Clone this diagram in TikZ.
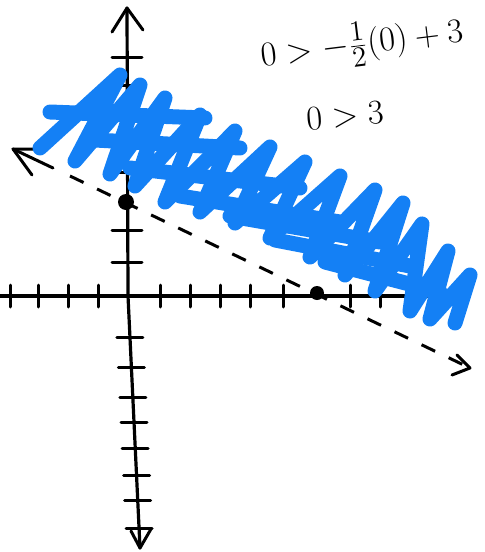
\documentclass[tikz,border=0pt]{standalone}
\usetikzlibrary{arrows.meta}
\definecolor{scrib}{RGB}{20,128,245}
\begin{document}
\begin{tikzpicture}[x=0.5pt,y=-0.5pt,
  axis/.style={line width=1.6pt, line cap=round, line join=round, black},
  tick/.style={line width=1.5pt, line cap=round, black},
  dashline/.style={line width=1.5pt, dash pattern=on 7.5pt off 7.5pt, black},
  tipline/.style={line width=1.5pt, line cap=round, line join=round, black},
  scribble/.style={draw=scrib, line width=7.5pt, line cap=round, line join=round},
  lbl/.style={font=\fontsize{19}{22}\selectfont, inner sep=0pt},
  dot/.style={circle, fill=black, inner sep=0pt}
]
\useasboundingbox (0,0) rectangle (484,552);
% axes
\coordinate (ytop) at (127,8);
\coordinate (ymid) at (128,296);
\coordinate (ybot) at (140,548);
\coordinate (xl) at (0,296);
\coordinate (xr) at (445,296);
\draw[axis] (ytop) -- (ymid) -- (ybot);
\draw[axis] (xl) -- (xr);
\draw[tipline] (112,32) -- (ytop) -- (143,30);
\draw[tipline] (131,531) -- (ybot) -- (151,529);
% y ticks above
\foreach \y in {57,85,114,143,172,230,262}
  \draw[tick] (112,\y) -- (142,\y);
% y ticks below
\foreach \y in {337,367,397,422,448,475,500,528}
  \draw[tick] ({128+(\y-296)*12/252-13},\y) -- ({128+(\y-296)*12/252+13},\y);
% x ticks
\foreach \x in {10,38,68,98,160,190,220,250,283,350,380,410,440}
  \draw[tick] (\x,285) -- (\x,307);
% boundary line
\coordinate (ltip) at (13,149);
\coordinate (rtip) at (470,368);
\coordinate (lsolid) at (53,168);
\draw[tipline] (ltip) -- (lsolid);
\draw[dashline] (lsolid) ++(17,8) -- (rtip);
\draw[tipline] (36,149) -- (ltip) -- (32,175);
\draw[tipline] (457,355) -- (rtip) -- (452,375);
% points
\node[dot, minimum size=8pt] (p1) at (126,202) {};
\node[dot, minimum size=7pt] (p2) at (317,293) {};
% scribble
\draw[scribble] (40,148) -- (120,75) -- (75,161) -- (140,85) -- (110,174) -- (165,98)
  -- (135,186) -- (200,115) -- (165,202) -- (235,131) -- (200,212) -- (270,147)
  -- (235,223) -- (305,162) -- (270,238) -- (340,176) -- (310,257) -- (375,190)
  -- (345,275) -- (403,203) -- (375,291) -- (422,224) -- (410,311) -- (448,251)
  -- (430,319) -- (470,275) -- (455,323);
\draw[scribble] (50,112) -- (205,118);
\draw[scribble] (95,140) -- (240,148);
\draw[scribble] (130,168) -- (300,188);
\draw[scribble] (180,196) -- (340,222);
\draw[scribble] (230,216) -- (380,242);
\draw[scribble] (275,240) -- (410,266);
\draw[scribble] (325,262) -- (440,292);
% labels
\node[lbl, rotate=7] (ineq1) at (362,44) {$0 > -\frac{1}{2}(0)+3$};
\node[lbl, rotate=5] (ineq2) at (345,116) {$0 > 3$};
\end{tikzpicture}
\end{document}
